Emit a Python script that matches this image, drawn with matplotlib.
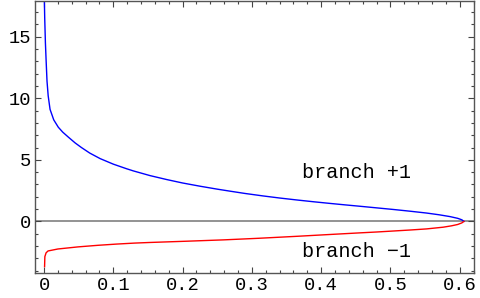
import matplotlib
matplotlib.use("Agg")
import matplotlib.pyplot as plt
from matplotlib.ticker import MultipleLocator

# values
# branch +1 (blue), from the top left down to the tip
x_up = [0.0003, 0.001, 0.002, 0.003, 0.0043, 0.006, 0.0087, 0.014, 0.0206, 0.027,
        0.035, 0.045, 0.054, 0.066, 0.081, 0.100, 0.119, 0.129, 0.153, 0.177,
        0.200, 0.225, 0.250, 0.268, 0.290, 0.316, 0.340, 0.365, 0.390, 0.413,
        0.435, 0.456, 0.480, 0.504, 0.528, 0.552, 0.570, 0.586, 0.597, 0.603, 0.606]
y_up = [18.5, 16.5, 14.5, 13.1, 11.4, 10.2, 9.1, 8.25, 7.65, 7.25,
        6.85, 6.37, 6.0, 5.55, 5.1, 4.65, 4.28, 4.1, 3.72, 3.4,
        3.12, 2.86, 2.62, 2.46, 2.27, 2.07, 1.90, 1.74, 1.59, 1.46,
        1.34, 1.23, 1.10, 0.97, 0.83, 0.68, 0.54, 0.39, 0.25, 0.13, 0.0]

# branch -1 (red), from the tip back to x = 0
x_dn = [0.606, 0.603, 0.597, 0.588, 0.576, 0.552, 0.528, 0.504, 0.480, 0.456,
        0.410, 0.365, 0.310, 0.259, 0.205, 0.153, 0.131, 0.105, 0.078, 0.049,
        0.020, 0.0058, 0.003, 0.0012, 0.0008]
y_dn = [0.0, -0.12, -0.25, -0.36, -0.47, -0.61, -0.70, -0.78, -0.86, -0.93,
        -1.07, -1.21, -1.37, -1.5, -1.61, -1.71, -1.76, -1.84, -1.94, -2.07,
        -2.24, -2.4, -2.55, -2.86, -3.67]

labels = ["branch +1", "branch \u22121"]
label_x = [0.451, 0.451]
label_y = [4.0, -2.48]

fig = plt.figure(figsize=(4.81, 2.98), dpi=100)
ax = fig.add_axes([0.0728, 0.0839, 0.9126, 0.9127])

ax.axhline(0, color="#808080", lw=1.2, zorder=1)
ax.plot(x_up, y_up, color="#0000ff", lw=1.0, zorder=2)
ax.plot(x_dn, y_dn, color="#ff0000", lw=1.0, zorder=2)

for s, tx, ty in zip(labels, label_x, label_y):
    ax.text(tx, ty, s, family="Liberation Mono", fontsize=14.5,
            ha="center", va="center")

ax.set_xlim(-0.013, 0.6205)
ax.set_ylim(-4.19, 17.9)
ax.xaxis.set_major_locator(MultipleLocator(0.1))
ax.xaxis.set_minor_locator(MultipleLocator(0.02))
ax.yaxis.set_major_locator(MultipleLocator(5))
ax.yaxis.set_minor_locator(MultipleLocator(1))
ax.xaxis.set_major_formatter(plt.FuncFormatter(lambda v, p: "0" if abs(v) < 1e-9 else f"{v:.1f}"))

ax.tick_params(which="both", direction="in", top=True, right=True,
               color="#444444", width=0.8)
ax.tick_params(which="major", length=4, labelsize=13.5, pad=3)
ax.tick_params(which="minor", length=2.5)
for lab in ax.get_xticklabels() + ax.get_yticklabels():
    lab.set_family("Liberation Mono")
for sp in ax.spines.values():
    sp.set_color("#555555")
    sp.set_linewidth(1.0)

fig.savefig("out.png", dpi=100)
